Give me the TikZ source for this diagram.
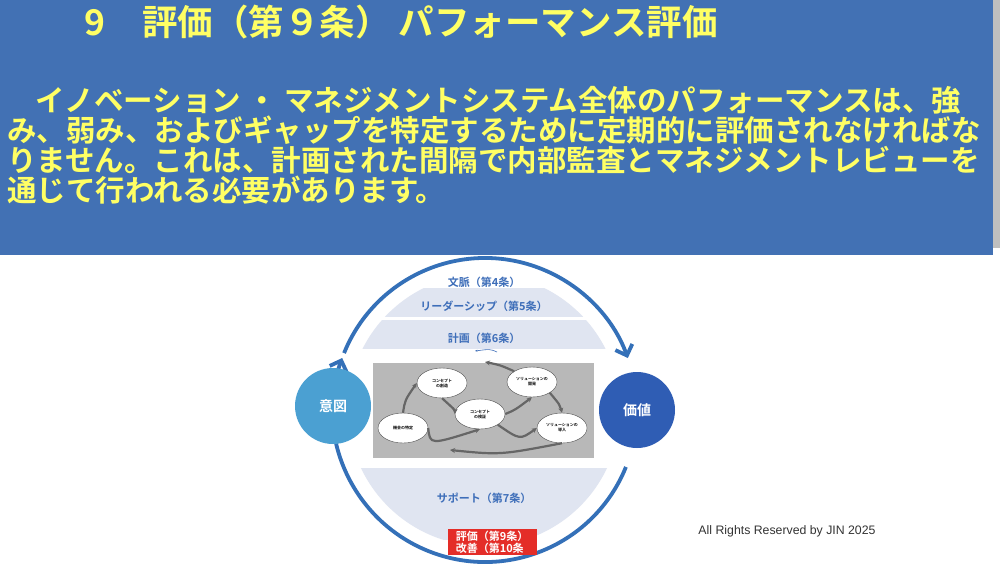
\documentclass[tikz,border=0pt]{standalone}
\usepackage{fontspec}
\newfontfamily\jp{Noto Sans CJK JP Bold}
\setsansfont{Liberation Sans}
\usetikzlibrary{arrows.meta,shapes.geometric}
\definecolor{hdr}{RGB}{66,113,180}
\definecolor{ylw}{RGB}{255,255,100}
\definecolor{arc}{RGB}{52,112,184}
\definecolor{band}{RGB}{224,229,241}
\definecolor{lbl}{RGB}{62,110,185}
\begin{document}
\begin{tikzpicture}[x=1pt,y=-1pt,
  bodyline/.style={anchor=west,inner sep=0,text=ylw,font=\jp\fontsize{29.5}{30}\selectfont},
  bandlbl/.style={text=lbl,font=\jp\fontsize{11}{12}\selectfont,inner sep=0},
  elli/.style={ellipse,draw=black!70,fill=white,minimum width=50,minimum height=30,inner sep=0,font=\jp\fontsize{4}{5}\selectfont,align=center},
  flow/.style={draw=black!60,line width=2.2,-{Stealth[length=5,width=5]}},
  bigarc/.style={draw=arc,line width=3.8,-{Straight Barb[length=9,width=18]}},
  bub/.style={circle,minimum size=76,inner sep=0,text=white,font=\jp\fontsize{14}{15}\selectfont}]
\useasboundingbox (0,0) rectangle (1000,563);
\fill[white] (0,0) rectangle (1000,563);
\fill[black!25] (993,0) rectangle (1000,248);
\fill[hdr] (0,0) rectangle (993,255);
\node[anchor=west,inner sep=0,text=ylw,font=\jp\fontsize{35.5}{37}\selectfont] (title) at (84,22) {9\hspace{1.05em}評価（第９条） パフォーマンス評価};
\node[bodyline] (l1) at (7,100) {\hspace{28pt}イノベーション ・ マネジメントシステム全体のパフォーマンスは、強};
\node[bodyline] (l2) at (7,130) {み、弱み、およびギャップを特定するために定期的に評価されなければな};
\node[bodyline] (l3) at (7,160) {りません。これは、計画された間隔で内部監査とマネジメントレビューを};
\node[bodyline] (l4) at (7,190) {通じて行われる必要があります。};
% bands
\begin{scope}
\clip (484,410) circle (136);
\fill[band] (300,288) rectangle (700,317);
\fill[band] (300,320) rectangle (700,349);
\fill[band] (300,468) rectangle (700,545);
\end{scope}
\fill[white] (300,540) rectangle (700,563);
\node[bandlbl] (b4) at (484,282) {文脈（第4条）};
\node[bandlbl] (b5) at (484,306) {リーダーシップ（第5条）};
\node[bandlbl] (b6) at (484,338) {計画（第6条）};
\node[bandlbl] (b7) at (484,498) {サポート（第7条）};
\draw[lbl,line width=0.6,-{Stealth[length=2.5]}] (497,352) .. controls (490,349) .. (475,351);
% image
\fill[black!28] (373,363) rectangle (594,458);
\node[elli] (e1) at (442,383) {コンセプト\\の創造};
\node[elli] (e2) at (532,382) {ソリューションの\\開発};
\node[elli] (e3) at (403,428) {機会の特定};
\node[elli] (e4) at (480,414) {コンセプト\\の検証};
\node[elli] (e5) at (562,428) {ソリューションの\\導入};
\draw[flow] (e3.north) .. controls (405,400) .. (e1.west);
\draw[flow] (e1.south) .. controls (455,410) .. (e4.west);
\draw[flow] (e4.east) .. controls (515,410) .. (e2.south);
\draw[flow] (e2.south east) .. controls (560,405) .. (e5.north);
\draw[flow] (e4.south east) .. controls (520,440) .. (e5.west);
\draw[flow] (e3.east) .. controls (430,445) .. (e4.south);
\draw[flow] (e5.south) .. controls (500,455) .. (450,450);
\draw[flow] (e2.north west) .. controls (500,365) .. (485,362);
% big arcs
\coordinate (c) at (485,410);
\draw[bigarc] (c) ++(202:152) arc[start angle=202,end angle=340,radius=152];
\draw[bigarc] (c) ++(22:152) arc[start angle=22,end angle=200,radius=152];
\node[bub,fill={rgb,255:red,75;green,160;blue,210}] (ito) at (333,406) {意図};
\node[bub,fill={rgb,255:red,47;green,93;blue,180}] (kachi) at (637,410) {価値};
\node[fill={rgb,255:red,228;green,45;blue,40},text=white,font=\jp\fontsize{11}{12}\selectfont,align=left,inner xsep=3,inner ysep=2,minimum width=89] (red) at (492,542) {評価（第9条）\\改善（第10条};
\node[font=\sffamily\fontsize{12.3}{14}\selectfont,text=black!80,inner sep=0] (copy) at (787,531) {All Rights Reserved by JIN 2025};
\end{tikzpicture}
\end{document}
